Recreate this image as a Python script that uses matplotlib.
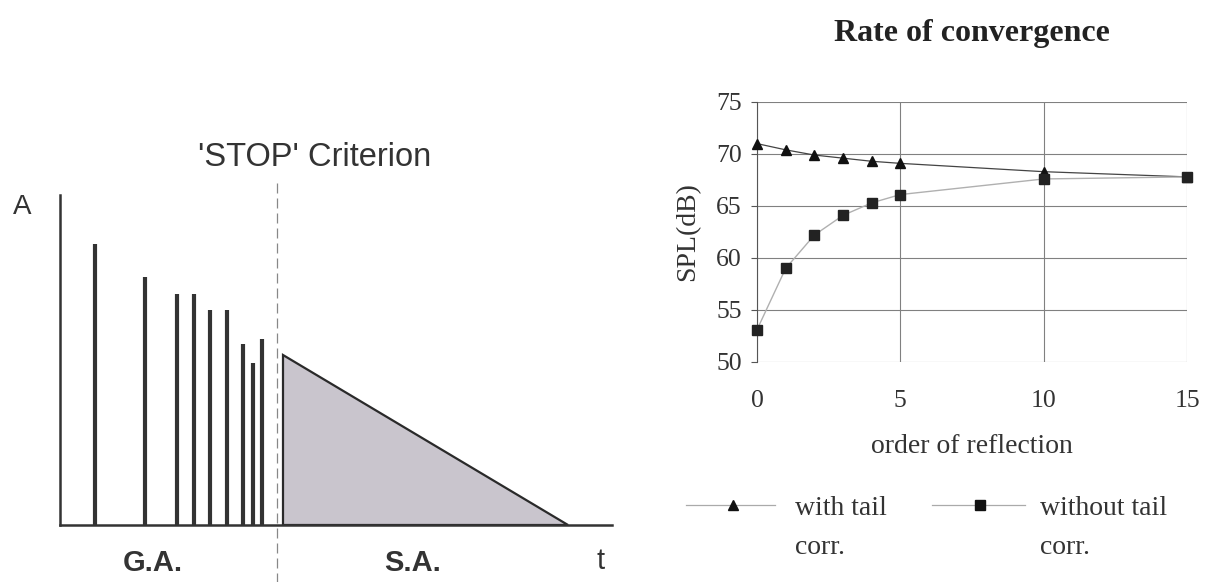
import matplotlib.pyplot as plt
from matplotlib.lines import Line2D

# left panel: schematic impulse response (arbitrary units)
spike_t = [35, 85, 117, 134, 150, 167, 183, 193, 202]
spike_a = [281, 248, 231, 231, 215, 215, 181, 162, 186]
tail_t = [223, 223, 508]
tail_a = [0, 170, 0]
stop_t = 217

# right panel: rate of convergence
order = [0, 1, 2, 3, 4, 5, 10, 15]
spl_with_tail = [71.0, 70.4, 69.9, 69.6, 69.3, 69.1, 68.3, 67.8]
spl_without_tail = [53.1, 59.0, 62.2, 64.1, 65.3, 66.1, 67.6, 67.8]

W, H = 1207, 582
fig = plt.figure(figsize=(W / 100, H / 100), dpi=100)

sans = "Liberation Sans"
serif = "Liberation Serif"

# ---- left schematic ----
axl = fig.add_axes([60 / W, (H - 525) / H, 552 / W, 330 / H])
axl.set_xlim(0, 552); axl.set_ylim(0, 330)
for s in ["top", "right"]:
    axl.spines[s].set_visible(False)
for s in ["left", "bottom"]:
    axl.spines[s].set_linewidth(1.8); axl.spines[s].set_color("#333333")
axl.set_xticks([]); axl.set_yticks([])
axl.patch.set_alpha(0)

axl.vlines(spike_t, 0, spike_a, color="#333333", linewidth=3.0)
axl.fill(tail_t, tail_a, facecolor="#c9c5cd", edgecolor="#2a2a2a", linewidth=1.6)
axl.plot([stop_t, stop_t], [-60, 345], color="#888888", lw=0.9,
         ls=(0, (8, 4)), clip_on=False)

axl.text(stop_t + 38, 367, "'STOP' Criterion", fontsize=23.5, family=sans,
         ha="center", va="center", color="#333333")
axl.text(-38, 318, "A", fontsize=20, family=sans, ha="center", va="center", color="#333333")
axl.text(93, -38, "G.A.", fontsize=21, family=sans, weight="bold",
         ha="center", va="center", color="#333333")
axl.text(353, -38, "S.A.", fontsize=21, family=sans, weight="bold",
         ha="center", va="center", color="#333333")
axl.text(541, -36, "t", fontsize=21, family=sans, ha="center", va="center", color="#333333")

# ---- right chart ----
axr = fig.add_axes([757 / W, (H - 362) / H, 430 / W, 260 / H])
axr.set_xlim(0, 15); axr.set_ylim(50, 75)
axr.set_xticks([0, 5, 10, 15]); axr.set_yticks([50, 55, 60, 65, 70, 75])
axr.grid(True, color="#808080", linewidth=0.8)
for s in ["top", "right", "bottom"]:
    axr.spines[s].set_visible(False)
axr.spines["left"].set_color("#555555"); axr.spines["left"].set_linewidth(0.8)
axr.tick_params(axis="y", length=4, color="#555555", labelsize=18.5, pad=7)
axr.tick_params(axis="x", length=0, labelsize=18.5, pad=20)
for lab in axr.get_xticklabels() + axr.get_yticklabels():
    lab.set_family(serif); lab.set_color("#333333")

axr.plot(order, spl_with_tail, color="#444444", lw=0.9, marker="^",
         markersize=7, markerfacecolor="#111111", markeredgecolor="#111111", clip_on=False, zorder=3)
axr.plot(order, spl_without_tail, color="#b0b0b0", lw=1.0, marker="s",
         markersize=7, markerfacecolor="#222222", markeredgecolor="#222222", clip_on=False, zorder=3)

axr.set_title("Rate of convergence", fontsize=23, family=serif, weight="bold",
              color="#222222", pad=44)
axr.set_ylabel("SPL(dB)", fontsize=20, family=serif, color="#333333", labelpad=11)
axr.set_xlabel("order of reflection", fontsize=20, family=serif, color="#333333", labelpad=16)

# legend drawn by hand below the chart
fig.add_artist(Line2D([686 / W, 775 / W], [(H - 505) / H] * 2, color="#aaaaaa", lw=0.9))
fig.add_artist(Line2D([733 / W], [(H - 505) / H], marker="^", markersize=7,
                      color="#111111", linestyle="none"))
fig.text(795 / W, (H - 496) / H, "with tail\ncorr.", fontsize=20, family=serif,
         color="#333333", va="top", ha="left", linespacing=1.75)
fig.add_artist(Line2D([932 / W, 1025 / W], [(H - 505) / H] * 2, color="#aaaaaa", lw=0.9))
fig.add_artist(Line2D([980 / W], [(H - 505) / H], marker="s", markersize=7,
                      color="#111111", linestyle="none"))
fig.text(1040 / W, (H - 496) / H, "without tail\ncorr.", fontsize=20, family=serif,
         color="#333333", va="top", ha="left", linespacing=1.75)

fig.savefig("out.png", dpi=100)
